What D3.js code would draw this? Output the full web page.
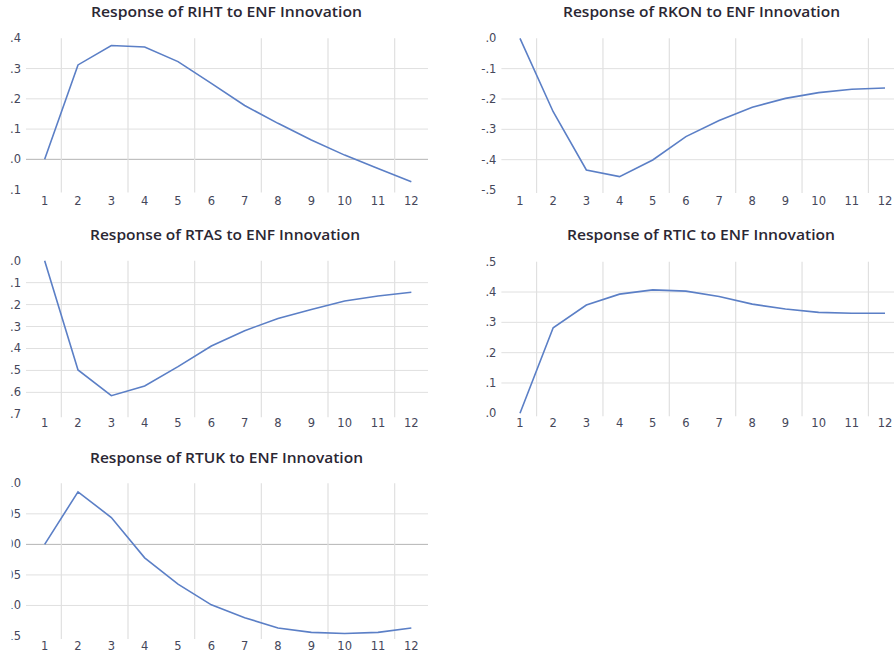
<!DOCTYPE html>
<html>
<head>
<meta charset="utf-8">
<script src="https://cdn.jsdelivr.net/npm/d3@7"></script>
<style>
  body { margin: 0; background: #fff; }
  svg { display: block; font-family: "Open Sans", sans-serif; }
</style>
</head>
<body>
<svg width="894" height="655"></svg>
<script>
// impulse responses, periods 1..12
const periods = [1, 2, 3, 4, 5, 6, 7, 8, 9, 10, 11, 12];

const rihtValues = [0, 0.312, 0.376, 0.371, 0.323, 0.251, 0.178, 0.119, 0.064, 0.014, -0.030, -0.074];
const rkonValues = [0, -0.242, -0.434, -0.456, -0.401, -0.324, -0.271, -0.227, -0.198, -0.179, -0.168, -0.164];
const rtasValues = [0, -0.498, -0.615, -0.571, -0.483, -0.389, -0.319, -0.263, -0.222, -0.184, -0.161, -0.144];
const rticValues = [0, 0.282, 0.357, 0.393, 0.407, 0.403, 0.385, 0.360, 0.344, 0.333, 0.330, 0.330];
const rtukValues = [0, 0.086, 0.044, -0.022, -0.065, -0.099, -0.120, -0.137, -0.144, -0.146, -0.144, -0.137];

const rihtTicks = [0.4, 0.3, 0.2, 0.1, 0, -0.1];
const rkonTicks = [0, -0.1, -0.2, -0.3, -0.4, -0.5];
const rtasTicks = [0, -0.1, -0.2, -0.3, -0.4, -0.5, -0.6, -0.7];
const rticTicks = [0.5, 0.4, 0.3, 0.2, 0.1, 0];
const rtukTicks = [0.10, 0.05, 0, -0.05, -0.10, -0.15];

const rihtLabels = [".4", ".3", ".2", ".1", ".0", "-.1"];
const rkonLabels = [".0", "-.1", "-.2", "-.3", "-.4", "-.5"];
const rtasLabels = [".0", "-.1", "-.2", "-.3", "-.4", "-.5", "-.6", "-.7"];
const rticLabels = [".5", ".4", ".3", ".2", ".1", ".0"];
const rtukLabels = [".10", ".05", ".00", "-.05", "-.10", "-.15"];

let svg = d3.select('svg');
const lineColour = '#5b7fc6';
const tickFont = '"DejaVu Sans", sans-serif';

// left column panels get their axis labels cut off at the left edge
svg.append('clipPath').attr('id', 'leftclip')
  .append('rect').attr('x', 10).attr('y', 0).attr('width', 884).attr('height', 655);
svg.append('clipPath').attr('id', 'leftclip2')
  .append('rect').attr('x', 11.6).attr('y', 0).attr('width', 884).attr('height', 655);

let panels = [
  { title: 'Response of RIHT to ENF Innovation', values: rihtValues, ticks: rihtTicks, labels: rihtLabels,
    left: 28, right: 428, top: 38.3, bottom: 189.6, titleX: 91, titleW: 271, titleY: 17, xLabY: 205, clip: 'leftclip' },
  { title: 'Response of RKON to ENF Innovation', values: rkonValues, ticks: rkonTicks, labels: rkonLabels,
    left: 503.4, right: 901.6, top: 38.3, bottom: 190, titleX: 563, titleW: 277, titleY: 17, xLabY: 205, clip: null },
  { title: 'Response of RTAS to ENF Innovation', values: rtasValues, ticks: rtasTicks, labels: rtasLabels,
    left: 28, right: 428, top: 260.7, bottom: 414.3, titleX: 90, titleW: 270, titleY: 240, xLabY: 427, clip: 'leftclip' },
  { title: 'Response of RTIC to ENF Innovation', values: rticValues, ticks: rticTicks, labels: rticLabels,
    left: 503.4, right: 901.6, top: 261.7, bottom: 413.3, titleX: 567, titleW: 268, titleY: 240, xLabY: 427, clip: null },
  { title: 'Response of RTUK to ENF Innovation', values: rtukValues, ticks: rtukTicks, labels: rtukLabels,
    left: 28, right: 428, top: 483.3, bottom: 636, titleX: 90, titleW: 273, titleY: 463, xLabY: 650, clip: 'leftclip2' }
];

panels.forEach(function(p) {
  let g = svg.append('g');

  let x = d3.scaleBand().domain(periods).range([p.left, p.right]);
  let y = d3.scaleLinear()
    .domain([d3.min(p.ticks), d3.max(p.ticks)])
    .range([p.bottom, p.top]);

  // horizontal gridlines, interior ticks only
  let inner = p.ticks.filter(function(t) { return t != d3.min(p.ticks) && t != d3.max(p.ticks); });
  g.selectAll('line.hgrid')
    .data(inner)
    .enter().append('line')
      .attr('class', 'hgrid')
      .attr('x1', p.left - 2)
      .attr('x2', Math.min(p.right, 894))
      .attr('y1', function(d) { return y(d); })
      .attr('y2', function(d) { return y(d); })
      .attr('stroke', function(d) { return Math.abs(d) < 1e-9 ? '#b4b4b4' : '#e0e0e0'; })
      .attr('stroke-width', 1);

  // vertical gridlines between every second period
  let vgrid = periods.filter(function(d) { return d % 2 == 0; });
  g.selectAll('line.vgrid')
    .data(vgrid)
    .enter().append('line')
      .attr('class', 'vgrid')
      .attr('x1', function(d) { return x(d); })
      .attr('x2', function(d) { return x(d); })
      .attr('y1', p.top)
      .attr('y2', p.bottom + 3)
      .attr('stroke', '#e0e0e0')
      .attr('stroke-width', 1.2);

  // y labels
  let ylab = g.append('g');
  if (p.clip) ylab.attr('clip-path', 'url(#' + p.clip + ')');
  ylab.selectAll('text')
    .data(p.ticks)
    .enter().append('text')
      .attr('x', p.left - 7)
      .attr('y', function(d) { return y(d); })
      .attr('dy', '0.35em')
      .attr('text-anchor', 'end')
      .attr('font-family', tickFont)
      .attr('font-size', 11.5)
      .attr('fill', '#45475a')
      .text(function(d, i) { return p.labels[i]; });

  // x labels
  g.selectAll('text.xl')
    .data(periods)
    .enter().append('text')
      .attr('class', 'xl')
      .attr('x', function(d) { return x(d) + x.bandwidth() / 2; })
      .attr('y', p.xLabY)
      .attr('text-anchor', 'middle')
      .attr('font-family', tickFont)
      .attr('font-size', 11.5)
      .attr('fill', '#45475a')
      .text(function(d) { return d; });

  // the response line
  let line = d3.line()
    .x(function(d, i) { return x(periods[i]) + x.bandwidth() / 2; })
    .y(function(d) { return y(d); });
  g.append('path')
    .datum(p.values)
    .attr('d', line)
    .attr('fill', 'none')
    .attr('stroke', lineColour)
    .attr('stroke-width', 1.6);

  g.append('text')
    .attr('x', p.titleX)
    .attr('y', p.titleY)
    .attr('textLength', p.titleW)
    .attr('lengthAdjust', 'spacingAndGlyphs')
    .attr('font-size', 13.5)
    .attr('font-weight', 600)
    .attr('fill', '#2b2733')
    .text(p.title);
});
</script>
</body>
</html>
